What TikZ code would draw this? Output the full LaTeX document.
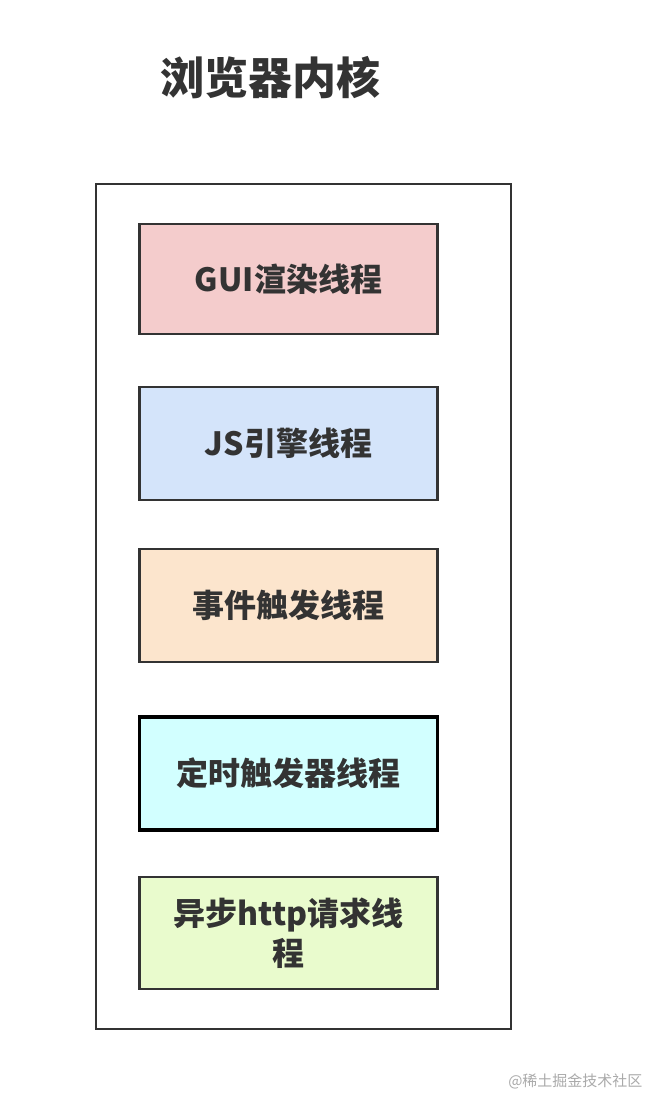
\documentclass[tikz,border=0pt]{standalone}
\usepackage{fontspec}
\newfontfamily\cjk{Noto Sans CJK SC}
\definecolor{txt}{HTML}{333333}
\definecolor{pinkf}{HTML}{F4CCCC}
\definecolor{bluef}{HTML}{D4E4FA}
\definecolor{peachf}{HTML}{FCE5CD}
\definecolor{cyanf}{HTML}{D2FFFF}
\definecolor{greenf}{HTML}{E9FBCD}
\definecolor{wm}{HTML}{AAAAAA}
\begin{document}
\begin{tikzpicture}[x=1pt,y=-1pt,
  thread/.style={draw=txt,line width=2.8pt,minimum width=298pt,minimum height=110pt,inner sep=0pt,
    align=center,text width=260pt,font=\cjk\bfseries\fontsize{32}{36}\selectfont,text=txt},
  outer/.style={draw=txt,line width=2.8pt}]
\useasboundingbox (0,0) rectangle (666,1110);
\fill[white] (0,0) rectangle (666,1110);
\node[font=\cjk\bfseries\fontsize{44}{48}\selectfont,text=txt] (title) at (270,78) {浏览器内核};
\draw[outer] (96,184) rectangle (511,1029);
\node[thread,fill=pinkf] (gui) at (288.5,279) {GUI渲染线程};
\node[thread,fill=bluef,minimum height=113pt] (js) at (288.5,443.5) {JS引擎线程};
\node[thread,fill=peachf,minimum height=113pt] (evt) at (288.5,605.5) {事件触发线程};
\node[thread,fill=cyanf,draw=black,line width=3.3pt,minimum height=113pt] (timer) at (288.5,773.5) {定时触发器线程};
\node[thread,fill=greenf,minimum height=112pt,font=\cjk\bfseries\fontsize{32}{40}\selectfont] (http) at (288.5,933) {异步http请求线\\程};
\node[anchor=east,font=\cjk\fontsize{15}{17}\selectfont,text=wm] (mark) at (646,1081) {@稀土掘金技术社区};
\end{tikzpicture}
\end{document}
